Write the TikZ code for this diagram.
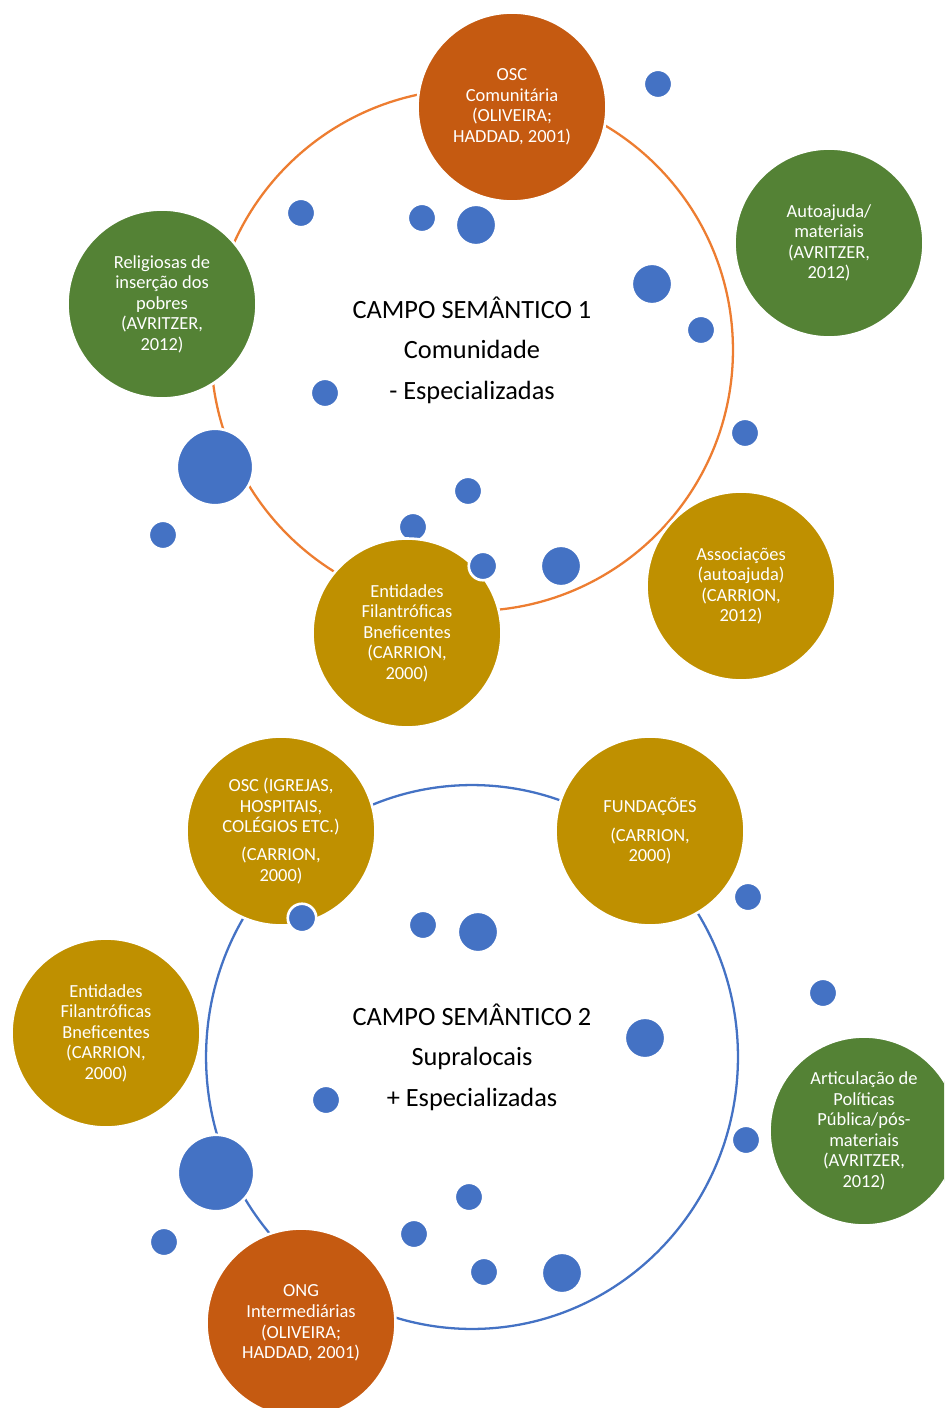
\documentclass[tikz,border=0pt]{standalone}
\usepackage{fontspec}
\setmainfont{Carlito}
\usetikzlibrary{shapes.geometric}
\definecolor{rust}{HTML}{C55A11}
\definecolor{leaf}{HTML}{548235}
\definecolor{ochre}{HTML}{BF9000}
\definecolor{dotblue}{HTML}{4472C4}
\definecolor{ringorange}{HTML}{ED7D31}
\begin{document}
\begin{tikzpicture}[
    x=0.02cm, y=-0.02cm,
    ring/.style={inner sep=0pt, line width=1.3pt, align=center, font=\fontsize{15}{23}\selectfont},
    bubble/.style={circle, draw=white, line width=1.5pt, minimum size=3.78cm, inner sep=0pt, text=white, align=center, font=\fontsize{10.5}{11.7}\selectfont},
    dot/.style={circle, draw=white, line width=1.5pt, fill=dotblue, inner sep=0pt},
    dotS/.style={dot, minimum size=0.57cm},
    dotM/.style={dot, minimum size=0.81cm},
    dotL/.style={dot, minimum size=1.53cm}
]
    \useasboundingbox (0,0) rectangle (944,1408);
    \clip (0,0) rectangle (944,1408);

    % Campo 1
    \node [ring, circle, draw=ringorange, minimum size=10.44cm] (campo1) at (472,350)
        {CAMPO SEMÂNTICO 1\\Comunidade\\- Especializadas};

    \node [dotS] (a1) at (658,84) {};
    \node [dotS] (a2) at (301,213) {};
    \node [dotS] (a3) at (422,218) {};
    \node [dotM] (a4) at (476,225) {};
    \node [dotM] (a5) at (652,284) {};
    \node [dotS] (a6) at (701,330) {};
    \node [dotS] (a7) at (325,393) {};
    \node [dotS] (a8) at (745,433) {};
    \node [dotL] (a9) at (215,467) {};
    \node [dotS] (a10) at (163,535) {};
    \node [dotS] (a11) at (468,491) {};
    \node [dotS] (a12) at (413,527) {};
    \node [dotM] (a13) at (561,566) {};

    \node [bubble, fill=rust] (oscCom) at (512,107) {OSC\\Comunitária\\(OLIVEIRA;\\HADDAD, 2001)};
    \node [bubble, fill=leaf] (religiosas) at (162,304) {Religiosas de\\inserção dos\\pobres\\(AVRITZER,\\2012)};
    \node [bubble, fill=leaf] (autoajuda) at (829,243) {Autoajuda/\\materiais\\(AVRITZER,\\2012)};
    \node [bubble, fill=ochre] (entidades1) at (407,633) {Entidades\\Filantróficas\\Bneficentes\\(CARRION,\\2000)};
    \node [bubble, fill=ochre] (associacoes) at (741,586) {Associações\\(autoajuda)\\(CARRION,\\2012)};
    \node [dotS] (a14) at (483,566) {};

    % Campo 2
    \node [ring, ellipse, draw=dotblue, minimum width=10.64cm, minimum height=10.88cm] (campo2) at (472,1057)
        {CAMPO SEMÂNTICO 2\\Supralocais\\+ Especializadas};

    \node [dotS] (b1) at (423,925) {};
    \node [dotM] (b2) at (478,932) {};
    \node [dotS] (b3) at (748,897) {};
    \node [dotS] (b4) at (823,993) {};
    \node [dotM] (b5) at (645,1038) {};
    \node [dotS] (b6) at (326,1100) {};
    \node [dotS] (b7) at (746,1140) {};
    \node [dotL] (b8) at (216,1173) {};
    \node [dotS] (b9) at (164,1242) {};
    \node [dotS] (b10) at (469,1197) {};
    \node [dotS] (b11) at (414,1234) {};
    \node [dotS] (b12) at (484,1272) {};
    \node [dotM] (b13) at (562,1273) {};

    \node [bubble, fill=ochre] (oscIgrejas) at (281,831) {OSC (IGREJAS,\\HOSPITAIS,\\COLÉGIOS ETC.)\\[0.15cm](CARRION,\\2000)};
    \node [bubble, fill=ochre] (fundacoes) at (650,831) {FUNDAÇÕES\\[0.17cm](CARRION,\\2000)};
    \node [bubble, fill=ochre] (entidades2) at (106,1033) {Entidades\\Filantróficas\\Bneficentes\\(CARRION,\\2000)};
    \node [bubble, fill=leaf] (articulacao) at (864,1131) {Articulação de\\Políticas\\Pública/pós-\\materiais\\(AVRITZER,\\2012)};
    \node [bubble, fill=rust] (ong) at (301,1323) {ONG\\Intermediárias\\(OLIVEIRA;\\HADDAD, 2001)};
    \node [dotS] (b14) at (302,918) {};
\end{tikzpicture}
\end{document}
